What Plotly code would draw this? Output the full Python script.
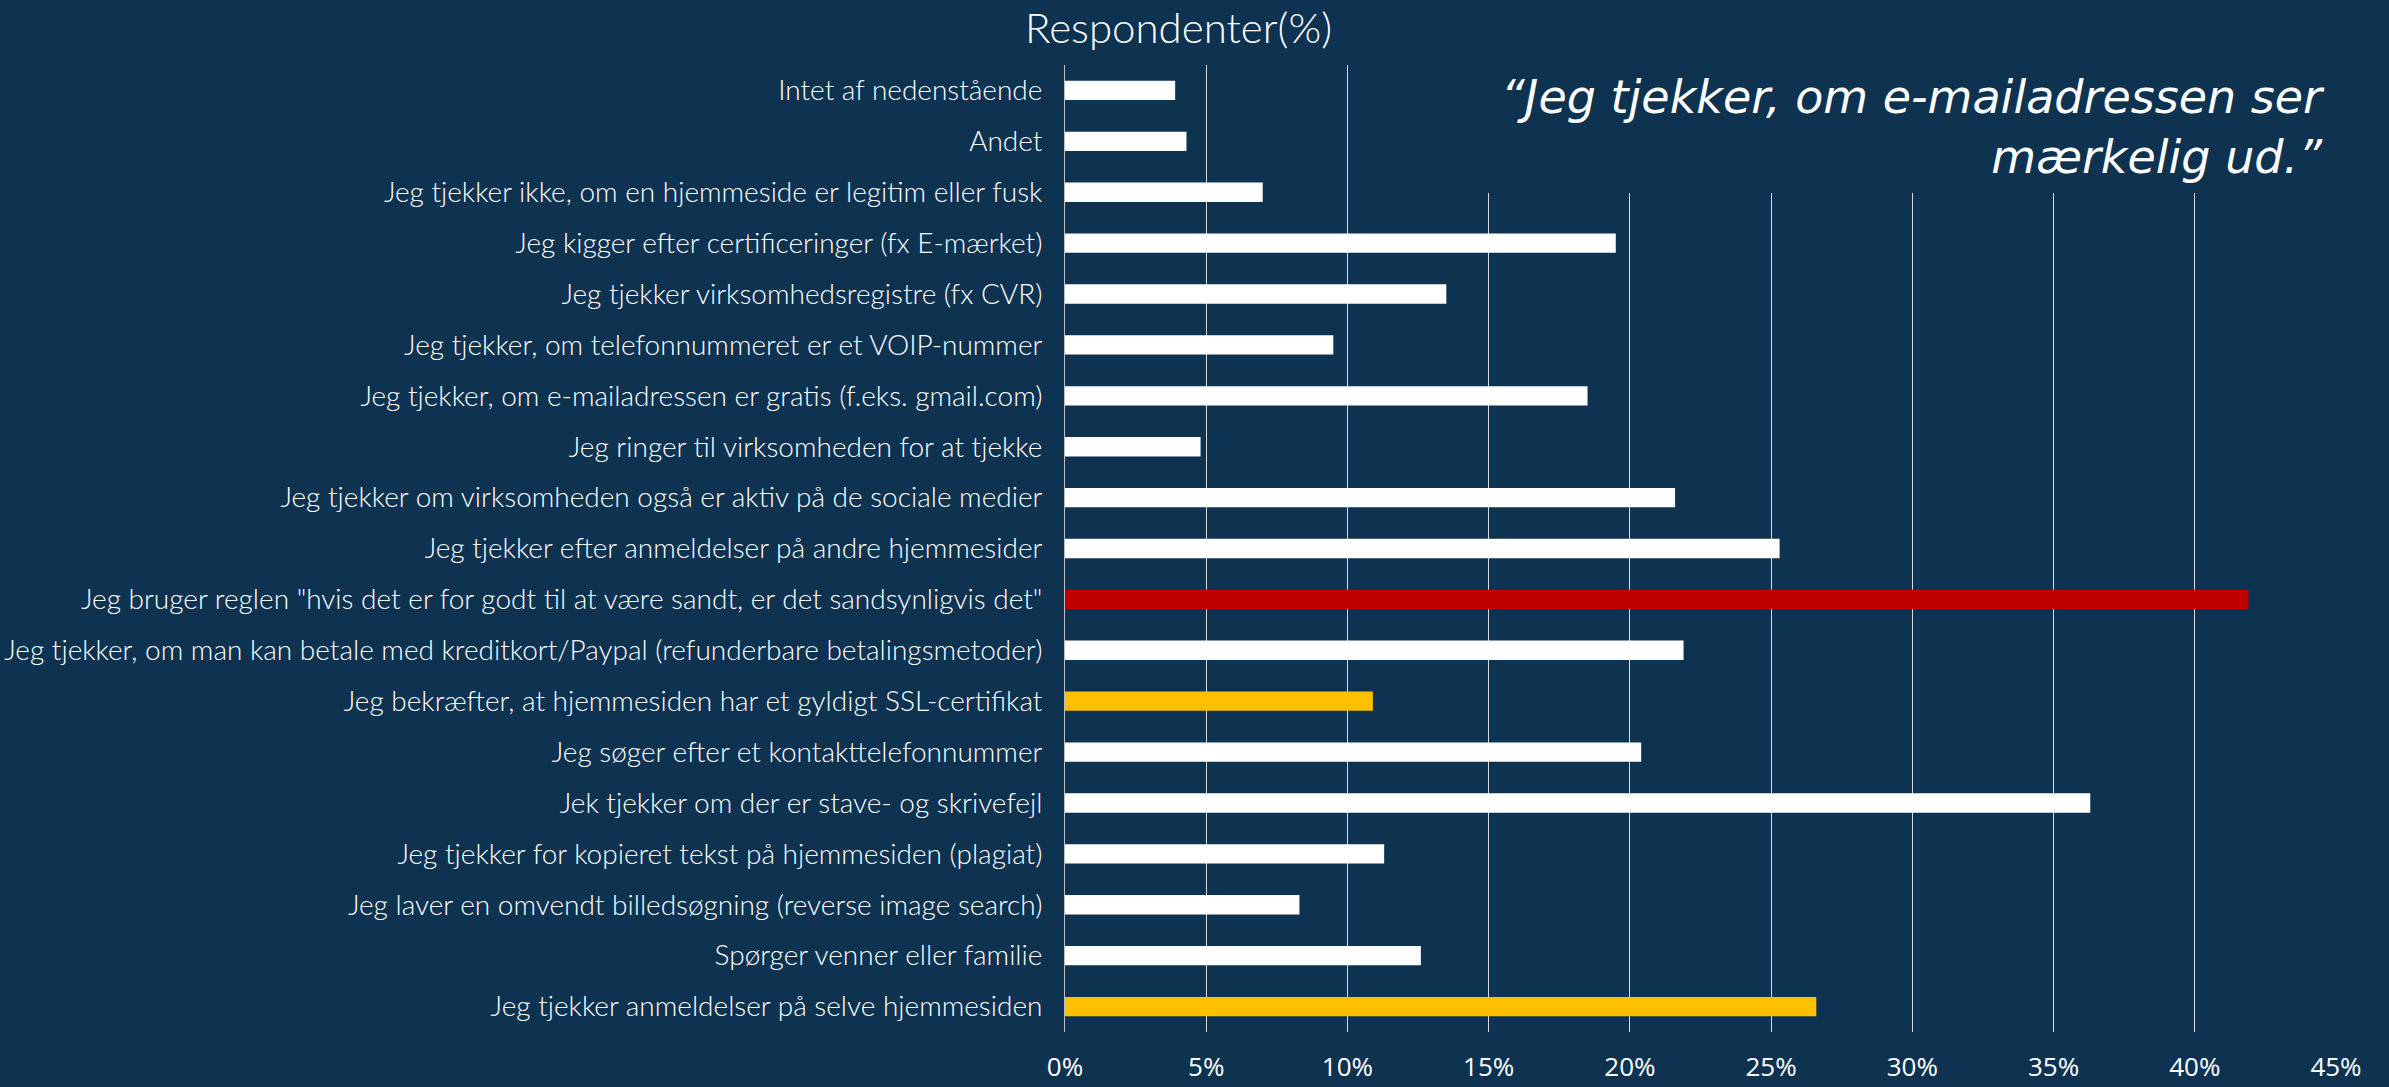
import plotly.graph_objects as go

categories = [
    "Intet af nedenstående",
    "Andet",
    "Jeg tjekker ikke, om en hjemmeside er legitim eller fusk",
    "Jeg kigger efter certificeringer (fx E-mærket)",
    "Jeg tjekker virksomhedsregistre (fx CVR)",
    "Jeg tjekker, om telefonnummeret er et VOIP-nummer",
    "Jeg tjekker, om e-mailadressen er gratis (f.eks. gmail.com)",
    "Jeg ringer til virksomheden for at tjekke",
    "Jeg tjekker om virksomheden også er aktiv på de sociale medier",
    "Jeg tjekker efter anmeldelser på andre hjemmesider",
    "Jeg bruger reglen \"hvis det er for godt til at være sandt, er det sandsynligvis det\"",
    "Jeg tjekker, om man kan betale med kreditkort/Paypal (refunderbare betalingsmetoder)",
    "Jeg bekræfter, at hjemmesiden har et gyldigt SSL-certifikat",
    "Jeg søger efter et kontakttelefonnummer",
    "Jek tjekker om der er stave- og skrivefejl",
    "Jeg tjekker for kopieret tekst på hjemmesiden (plagiat)",
    "Jeg laver en omvendt billedsøgning (reverse image search)",
    "Spørger venner eller familie",
    "Jeg tjekker anmeldelser på selve hjemmesiden",
]
values = [3.9, 4.3, 7.0, 19.5, 13.5, 9.5, 18.5, 4.8, 21.6, 25.3,
          41.9, 21.9, 10.9, 20.4, 36.3, 11.3, 8.3, 12.6, 26.6]
highlight = ["white"] * 10 + ["red", "white", "yellow"] + ["white"] * 5 + ["yellow"]

x_ticks = [0, 5, 10, 15, 20, 25, 30, 35, 40, 45]
x_tick_labels = ["0%", "5%", "10%", "15%", "20%", "25%", "30%", "35%", "40%", "45%"]

title_text = "Respondenter(%)"
quote_text = "“Jeg tjekker, om e-mailadressen ser<br>mærkelig ud.”"

BG = "#0E3351"
palette = {"white": "#FFFFFF", "red": "#C00000", "yellow": "#FFC000"}
LABEL_FONT = "Lato"

fig = go.Figure(
    go.Bar(
        x=values,
        y=categories,
        orientation="h",
        marker=dict(color=[palette[h] for h in highlight], line=dict(width=0)),
        width=0.38,
        hoverinfo="x+y",
    )
)

W, H = 2389, 1087
L, R, T, B = 1065, 53, 65, 55
pw = W - L - R
ph = H - T - B

def px_to_paper_x(px):
    return (px - L) / pw

def px_to_paper_y(py):
    return (H - B - py) / ph

annotations = [
    dict(
        text=title_text,
        xref="paper", yref="paper",
        x=px_to_paper_x(1178), y=px_to_paper_y(27),
        xanchor="center", yanchor="middle",
        showarrow=False,
        font=dict(family=LABEL_FONT, size=42, color="#FFFFFF", weight=300),
    ),
    dict(
        text=quote_text,
        xref="paper", yref="paper",
        x=px_to_paper_x(2326), y=px_to_paper_y(127),
        xanchor="right", yanchor="middle", align="right",
        showarrow=False, borderpad=0,
        font=dict(family="DejaVu Sans", size=46, color="#FFFFFF", weight=200, style="italic"),
    ),
]

fig.update_layout(
    width=W,
    height=H,
    margin=dict(l=L, r=R, t=T, b=B, pad=0),
    paper_bgcolor=BG,
    plot_bgcolor=BG,
    showlegend=False,
    font=dict(family=LABEL_FONT, color="#FFFFFF"),
    xaxis=dict(
        range=[0, 45],
        tickvals=x_ticks,
        ticktext=x_tick_labels,
        showgrid=True,
        gridcolor="#D9D9D9",
        gridwidth=1,
        zeroline=False,
        showline=False,
        tickfont=dict(family="Open Sans", size=26, color="#FFFFFF"),
        ticks="",
        ticklabelstandoff=17,
        automargin=False,
        fixedrange=True,
    ),
    yaxis=dict(
        autorange="reversed",
        showgrid=False,
        zeroline=False,
        showline=True,
        linecolor="#BFBFBF",
        linewidth=1,
        ticks="",
        ticklabelstandoff=16,
        automargin=False,
        tickfont=dict(family=LABEL_FONT, size=28, color="#FFFFFF", weight=300),
        fixedrange=True,
    ),
    shapes=[
        dict(
            type="rect",
            xref="paper", yref="paper",
            x0=px_to_paper_x(1420), x1=1.02,
            y0=px_to_paper_y(193), y1=1.0,
            fillcolor=BG, line=dict(width=0), layer="above",
        )
    ],
    annotations=annotations,
)

fig.write_html(
    "out.html",
    config={"displayModeBar": False},
    post_script="document.body.style.margin='0';document.body.style.overflow='hidden';",
)
